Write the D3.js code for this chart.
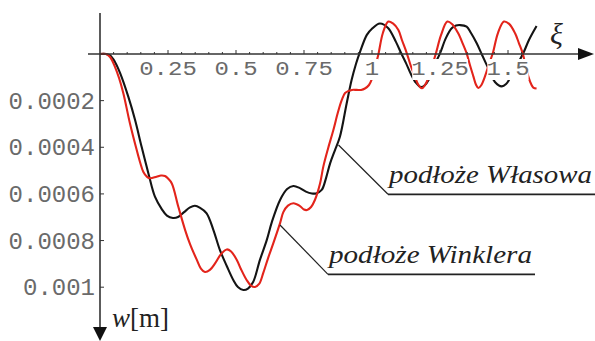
<!DOCTYPE html>
<html><head><meta charset="utf-8">
<script src="https://cdn.jsdelivr.net/npm/d3@7"></script>
<style>html,body{margin:0;padding:0;background:#fff;}svg{display:block;}</style>
</head><body>
<svg id="c" width="595" height="341"></svg>
<script>
// ---- data ----
const xiTicks = [0.25, 0.5, 0.75, 1, 1.25, 1.5];
const xiTickLabels = ["0.25", "0.5", "0.75", "1", "1.25", "1.5"];
const wTicks = [0.0002, 0.0004, 0.0006, 0.0008, 0.001];
const wTickLabels = ["0.0002", "0.0004", "0.0006", "0.0008", "0.001"];
const seriesNames = ["podłoże Własowa", "podłoże Winklera"];

// podłoże Własowa (black)
const xiWlasow = [0,0.022,0.037,0.055,0.074,0.104,0.129,0.153,0.178,0.202,0.227,0.246,0.268,0.287,0.309,0.331,0.349,0.368,0.392,0.417,0.441,0.466,0.490,0.507,0.527,0.544,0.563,0.588,0.613,0.632,0.662,0.688,0.711,0.735,0.757,0.779,0.794,0.815,0.831,0.846,0.864,0.882,0.907,0.925,0.941,0.956,0.981,0.999,1.029,1.059,1.088,1.107,1.125,1.143,1.162,1.180,1.195,1.208,1.228,1.250,1.272,1.293,1.309,1.324,1.348,1.364,1.385,1.403,1.419,1.434,1.452,1.477,1.493,1.507,1.529,1.556,1.577,1.605];
const wWlasow = [0,0,0.06e-4,0.34e-4,0.82e-4,1.83e-4,2.83e-4,3.98e-4,5.12e-4,6.12e-4,6.65e-4,6.93e-4,7.03e-4,6.99e-4,6.78e-4,6.58e-4,6.51e-4,6.60e-4,6.83e-4,7.55e-4,8.41e-4,9.09e-4,9.69e-4,9.99e-4,10.12e-4,10.06e-4,9.78e-4,8.83e-4,7.98e-4,7.20e-4,6.26e-4,5.79e-4,5.66e-4,5.75e-4,5.90e-4,5.98e-4,5.98e-4,5.83e-4,5.32e-4,4.69e-4,4.12e-4,3.55e-4,2.11e-4,1.12e-4,0.43e-4,-0.09e-4,-0.82e-4,-1.07e-4,-1.31e-4,-1.12e-4,-0.52e-4,-0.04e-4,0.39e-4,0.86e-4,1.24e-4,1.42e-4,1.33e-4,1.12e-4,0.52e-4,-0.03e-4,-0.69e-4,-1.10e-4,-1.22e-4,-1.24e-4,-1.17e-4,-0.90e-4,-0.46e-4,0,0.40e-4,0.77e-4,1.20e-4,1.39e-4,1.29e-4,1.04e-4,0.56e-4,-0.03e-4,-0.60e-4,-1.20e-4];

// podłoże Winklera (red)
const xiWinkler = [0,0.022,0.037,0.055,0.070,0.086,0.110,0.135,0.147,0.159,0.173,0.184,0.208,0.224,0.239,0.250,0.264,0.288,0.313,0.331,0.356,0.371,0.386,0.404,0.423,0.445,0.466,0.482,0.503,0.518,0.539,0.555,0.570,0.585,0.600,0.618,0.637,0.662,0.674,0.691,0.711,0.735,0.750,0.761,0.776,0.790,0.809,0.821,0.838,0.858,0.875,0.889,0.901,0.913,0.926,0.944,0.960,0.974,0.989,0.999,1.011,1.023,1.040,1.060,1.077,1.097,1.110,1.128,1.143,1.158,1.169,1.183,1.195,1.207,1.221,1.235,1.254,1.277,1.294,1.317,1.331,1.348,1.360,1.373,1.382,1.391,1.401,1.415,1.430,1.444,1.463,1.485,1.504,1.526,1.540,1.554,1.566,1.575,1.585,1.593,1.605];
const wWinkler = [0,0,0.13e-4,0.55e-4,1.03e-4,1.69e-4,2.97e-4,4.12e-4,4.63e-4,5.05e-4,5.27e-4,5.33e-4,5.26e-4,5.21e-4,5.23e-4,5.34e-4,5.55e-4,6.55e-4,7.55e-4,8.15e-4,8.83e-4,9.20e-4,9.35e-4,9.26e-4,8.98e-4,8.58e-4,8.38e-4,8.47e-4,8.83e-4,9.22e-4,9.69e-4,9.93e-4,9.99e-4,9.86e-4,9.40e-4,8.75e-4,8.12e-4,7.25e-4,6.78e-4,6.50e-4,6.40e-4,6.52e-4,6.67e-4,6.69e-4,6.56e-4,6.26e-4,5.55e-4,4.83e-4,4.07e-4,3.26e-4,2.49e-4,1.97e-4,1.67e-4,1.59e-4,1.54e-4,1.54e-4,1.54e-4,1.48e-4,1.33e-4,1.09e-4,0.56e-4,0.04e-4,-0.90e-4,-1.39e-4,-1.31e-4,-1.03e-4,-0.60e-4,-0.03e-4,0.52e-4,0.97e-4,1.29e-4,1.47e-4,1.33e-4,1.04e-4,0.52e-4,-0.03e-4,-0.82e-4,-1.39e-4,-1.29e-4,-0.89e-4,-0.52e-4,-0.03e-4,0.47e-4,0.97e-4,1.31e-4,1.46e-4,1.35e-4,0.97e-4,0.43e-4,-0.03e-4,-0.90e-4,-1.39e-4,-1.29e-4,-0.89e-4,-0.47e-4,-0.03e-4,0.56e-4,0.97e-4,1.29e-4,1.44e-4,1.48e-4];

// ---- drawing ----
const svg = d3.select("#c");
const x = d3.scaleLinear().domain([0, 1]).range([100, 372]);
const y = d3.scaleLinear().domain([0, 0.001]).range([54, 287.2]);

const line = d3.line().x(d => x(d[0])).y(d => y(d[1])).curve(d3.curveCatmullRom.alpha(0.5));
const blackData = d3.zip(xiWlasow, wWlasow);
const redData = d3.zip(xiWinkler, wWinkler);

svg.append("path").attr("d", line(blackData)).attr("fill", "none")
  .attr("stroke", "#141414").attr("stroke-width", 2.1);
svg.append("path").attr("d", line(redData)).attr("fill", "none")
  .attr("stroke", "#e3241b").attr("stroke-width", 2.1);

// x tick labels with white background
const labelColor = "#6a6a6a";
const charW = 14.4;
xiTicks.forEach((t, i) => {
  const s = xiTickLabels[i];
  const cx = x(t);
  const w = s.length * charW;
  svg.append("rect").attr("x", cx - w / 2 + 1).attr("y", 59).attr("width", w - 2).attr("height", 21).attr("fill", "#fff");
  svg.append("text").attr("transform", `translate(${cx},75) scale(1,0.82)`)
    .attr("text-anchor", "middle").attr("font-family", "'Liberation Mono', monospace")
    .attr("font-size", 24).attr("fill", labelColor).text(s);
});

// y tick labels
wTicks.forEach((t, i) => {
  svg.append("text").attr("x", 95).attr("y", y(t) + 8)
    .attr("text-anchor", "end").attr("font-family", "'Liberation Mono', monospace")
    .attr("font-size", 24).attr("fill", labelColor).text(wTickLabels[i]);
});

// axes
const axisColor = "#333";
svg.append("line").attr("x1", 88).attr("x2", 580).attr("y1", y(0)).attr("y2", y(0))
  .attr("stroke", axisColor).attr("stroke-width", 1.6);
svg.append("path").attr("d", `M578,${y(0)-6} L594,${y(0)} L578,${y(0)+6} Z`).attr("fill", "#111");
svg.append("line").attr("x1", x(0)).attr("x2", x(0)).attr("y1", 13).attr("y2", 330)
  .attr("stroke", axisColor).attr("stroke-width", 1.6);
svg.append("path").attr("d", `M${x(0)-7},327 L${x(0)},341 L${x(0)+7},327 Z`).attr("fill", "#111");

// x ticks (major + minor), pointing up
d3.range(0.05, 1.56, 0.05).forEach(t => {
  const major = xiTicks.some(m => Math.abs(m - t) < 1e-6);
  svg.append("line").attr("x1", x(t)).attr("x2", x(t)).attr("y1", y(0)).attr("y2", y(0) - (major ? 4 : 2))
    .attr("stroke", axisColor).attr("stroke-width", 1);
});
// y ticks pointing right
wTicks.forEach(t => {
  svg.append("line").attr("x1", x(0)).attr("x2", x(0) + 4).attr("y1", y(t)).attr("y2", y(t))
    .attr("stroke", axisColor).attr("stroke-width", 1);
});

// axis titles
svg.append("text").attr("x", 550).attr("y", 44).attr("font-family", "'Liberation Serif', serif")
  .attr("font-style", "italic").attr("font-size", 30).attr("fill", "#222").text("ξ");
const wt = svg.append("text").attr("x", 112).attr("y", 327).attr("font-family", "'Liberation Serif', serif")
  .attr("font-size", 27).attr("fill", "#222");
wt.append("tspan").attr("font-style", "italic").text("w");
wt.append("tspan").text("[m]");

// annotations
function annot(lx1, ly1, lx2, ly2, ux2, tx, ty, label) {
  svg.append("line").attr("x1", lx1).attr("y1", ly1).attr("x2", lx2).attr("y2", ly2)
    .attr("stroke", "#222").attr("stroke-width", 1.2);
  svg.append("line").attr("x1", lx2).attr("y1", ly2).attr("x2", ux2).attr("y2", ly2)
    .attr("stroke", "#222").attr("stroke-width", 1.8);
  svg.append("text").attr("x", tx).attr("y", ty).attr("font-family", "'Liberation Serif', serif")
    .attr("font-style", "italic").attr("font-size", 26).attr("fill", "#222")
    .attr("textLength", 203).attr("lengthAdjust", "spacingAndGlyphs").text(label);
}
annot(338.5, 145, 388, 194.3, 595, 389, 183.3, seriesNames[0]);
annot(280, 225, 328, 274.3, 535, 329, 262.7, seriesNames[1]);
</script>
</body></html>
